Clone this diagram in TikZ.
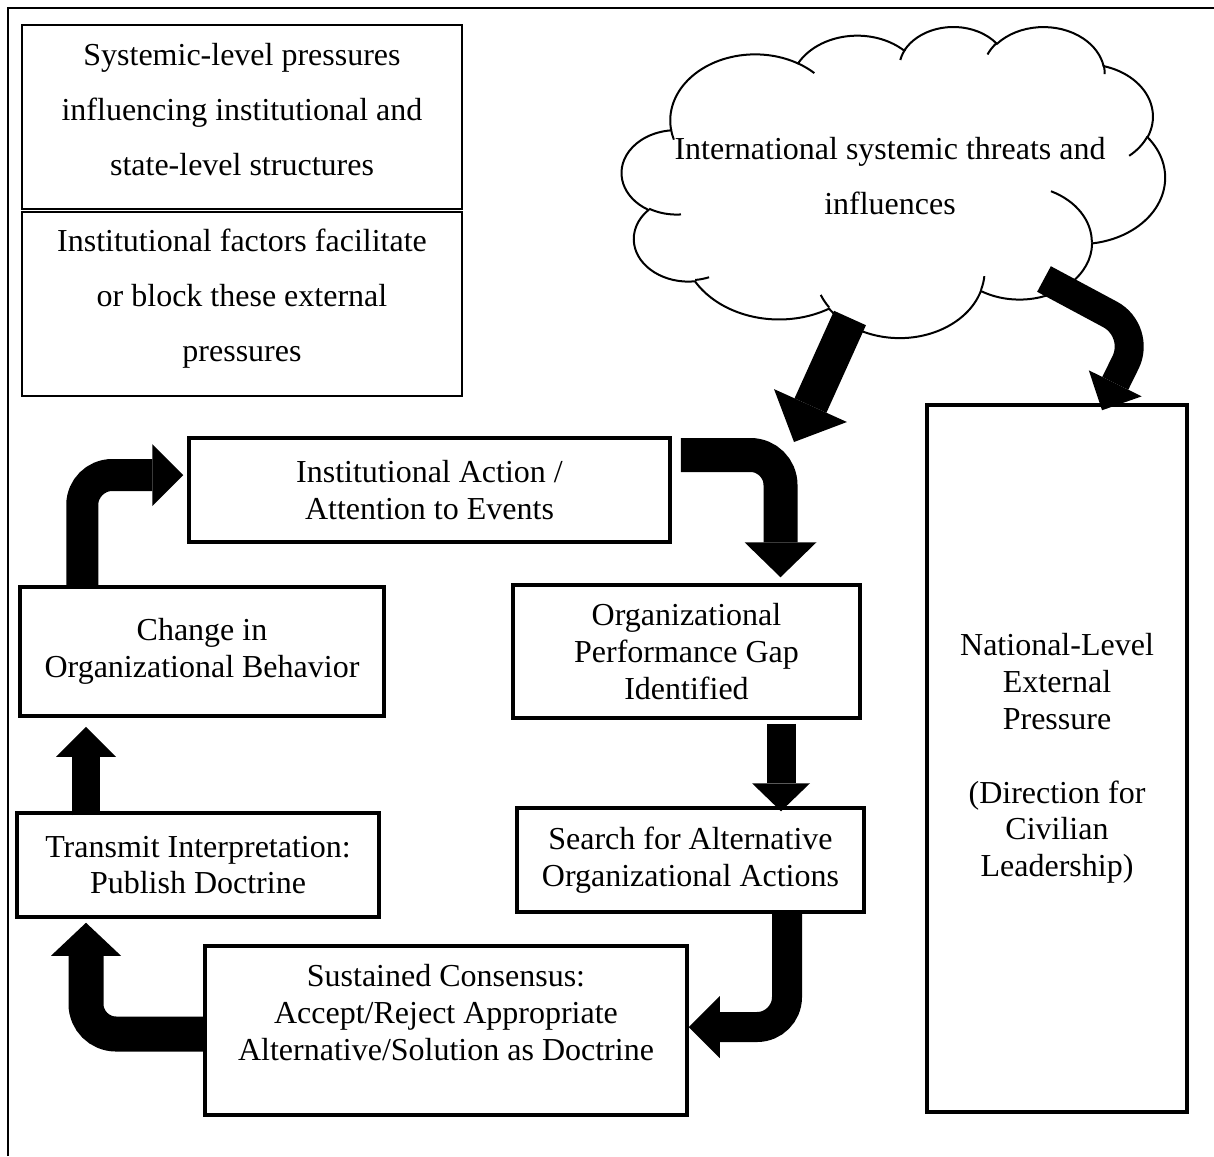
\documentclass[tikz,border=0pt]{standalone}
\usepackage{fontspec}
\setmainfont{Liberation Serif}
\usetikzlibrary{arrows.meta}

\begin{document}
\begin{tikzpicture}[x=1pt,y=-1pt,
    every node/.style={font=\fontsize{32}{36.8}\selectfont, align=center},
    flowbox/.style={draw, line width=3.5pt, inner sep=0pt},
    notebox/.style={draw, line width=2pt, inner sep=0pt, minimum width=440pt,
      font=\fontsize{32}{55}\selectfont},
    wide/.style={font=\fontsize{32}{55}\selectfont}]
    \useasboundingbox (0,0) rectangle (1214,1156);

    % frame
    \draw[line width=2.7pt] (8,1156) -- (8,8) -- (1214,8);

    % top left notes
    \node[notebox, minimum height=183.5pt] (sysbox) at (242,116.75)
        {Systemic-level pressures\\influencing institutional and\\state-level structures\rule[-14pt]{0pt}{0pt}};
    \node[notebox, minimum height=184pt] (factbox) at (242,304)
        {Institutional factors facilitate\\or block these external\\pressures\rule[-18pt]{0pt}{0pt}};

    % cloud
    \begin{scope}[shift={(622,26)}, xscale=5.43, yscale=3.11, line width=2pt]
        \draw[fill=white] (9.028,33.264)
            arc[start angle=-187.75, delta angle=128.10, x radius=15.632, y radius=21.273]
            arc[start angle=-152.03, delta angle=106.55, x radius=12.345, y radius=16.822]
            arc[start angle=-153.48, delta angle=116.16, x radius=10.104, y radius=13.762]
            arc[start angle=-139.71, delta angle=129.50, x radius=11.243, y radius=15.266]
            arc[start angle=-74.74, delta angle=97.96, x radius=12.345, y radius=16.836]
            arc[start angle=-37.53, delta angle=119.39, x radius=15.683, y radius=21.343]
            arc[start angle=0.46, delta angle=121.52, x radius=13.391, y radius=18.211]
            arc[start angle=16.85, delta angle=129.39, x radius=15.630, y radius=21.331]
            arc[start angle=59.01, delta angle=91.16, x radius=17.870, y radius=24.405]
            arc[start angle=-276.70, delta angle=139.79, x radius=10.093, y radius=13.699]
            arc[start angle=-239.65, delta angle=143.76, x radius=10.058, y radius=13.762]
            -- cycle;
        \draw (10.863,60.595) arc[start angle=85.54, delta angle=34.81, x radius=10.058, y radius=13.762]
              (16.037,80.785) arc[start angle=68.26, delta angle=15.04, x radius=10.093, y radius=13.699]
              (38.144,90.486) arc[start angle=146.24, delta angle=12.23, x radius=15.630, y radius=21.331]
              (66.729,80.442) arc[start angle=4.74, delta angle=12.11, x radius=15.630, y radius=21.331]
              (79.002,53.134) arc[start angle=-64.01, delta angle=64.47, x radius=13.391, y radius=18.211]
              (96.755,35.542) arc[start angle=23.22, delta angle=26.43, x radius=12.345, y radius=16.836]
              (88.713,12.560) arc[start angle=-10.21, delta angle=11.03, x radius=11.243, y radius=15.266]
              (67.310,9.148) arc[start angle=-156.29, delta angle=16.58, x radius=11.243, y radius=15.266]
              (51.252,10.926) arc[start angle=-167.72, delta angle=15.37, x radius=10.104, y radius=13.762]
              (32.407,12.019) arc[start angle=-59.65, delta angle=13.91, x radius=15.632, y radius=21.273]
              (9.553,36.549) arc[start angle=163.19, delta angle=9.06, x radius=15.632, y radius=21.273];
    \end{scope}
    \node[wide] (threats) at (890,176) {International systemic threats and\\influences};

    % flow boxes
    \node[flowbox, minimum width=481pt, minimum height=104pt] (action) at (429.5,490)
        {Institutional Action /\\Attention to Events};
    \node[flowbox, minimum width=347pt, minimum height=133pt] (gap) at (686.5,651.5)
        {Organizational\\Performance Gap\\Identified};
    \node[flowbox, minimum width=347pt, minimum height=104pt] (search) at (690.5,860)
        {Search for Alternative\\Organizational Actions};
    \node[flowbox, minimum width=482pt, minimum height=169pt] (consensus) at (446,1030.5)
        {Sustained Consensus:\\Accept/Reject Appropriate\\Alternative/Solution as Doctrine\\~};
    \node[flowbox, minimum width=362pt, minimum height=104pt] (transmit) at (198,865)
        {Transmit Interpretation:\\Publish Doctrine};
    \node[flowbox, minimum width=364pt, minimum height=129pt] (change) at (202,651.5)
        {Change in\\Organizational Behavior};
    \node[flowbox, minimum width=260pt, minimum height=707pt] (national) at (1057,758.5)
        {National-Level\\External\\Pressure\\~\\(Direction for\\Civilian\\Leadership)};

    % block arrows
    \coordinate (threattip) at (794,442);
    \coordinate (bend) at (1141,331);

    \draw[line width=35pt, -{Triangle[width=80pt,length=40pt,line width=0pt]}]
        ([xshift=-40pt,yshift=-142pt]threats.center) -- (threattip);
    \draw[line width=29pt, rounded corners=35pt, -{Triangle[width=59pt,length=30pt,line width=0pt]}]
        ([xshift=154pt,yshift=-103pt]threats.center) -- (bend) -- ([xshift=45pt,yshift=-7pt]national.north);

    \draw[line width=32pt, rounded corners=30pt, -{Triangle[width=62pt,length=31pt,line width=0pt]}]
        ([xshift=64pt]change.north west) |- ([xshift=-4pt,yshift=15pt]action.west);
    \draw[line width=34pt, rounded corners=30pt, -{Triangle[width=72pt,length=35pt,line width=0pt]}]
        ([xshift=9pt,yshift=35pt]action.east) -| ([xshift=94pt,yshift=6pt]gap.north);
    \draw[line width=29pt, -{Triangle[width=58pt,length=28pt,line width=0pt]}]
        ([xshift=94.5pt,yshift=-4pt]gap.south) -- ([xshift=90.5pt,yshift=-5pt]search.north);
    \draw[line width=30pt, rounded corners=30pt, -{Triangle[width=62pt,length=31pt,line width=0pt]}]
        ([xshift=96.5pt]search.south) |- ([yshift=3.5pt]consensus.east);
    \draw[line width=35pt, rounded corners=30pt, -{Triangle[width=70pt,length=33pt,line width=0pt]}]
        ([yshift=-3.5pt]consensus.west) -| ([xshift=-112pt,yshift=-4pt]transmit.south);
    \draw[line width=28pt, -{Triangle[width=60pt,length=30pt,line width=0pt]}]
        ([xshift=-112pt,yshift=-4pt]transmit.north) -- ([xshift=-116pt,yshift=-9pt]change.south);
\end{tikzpicture}
\end{document}
